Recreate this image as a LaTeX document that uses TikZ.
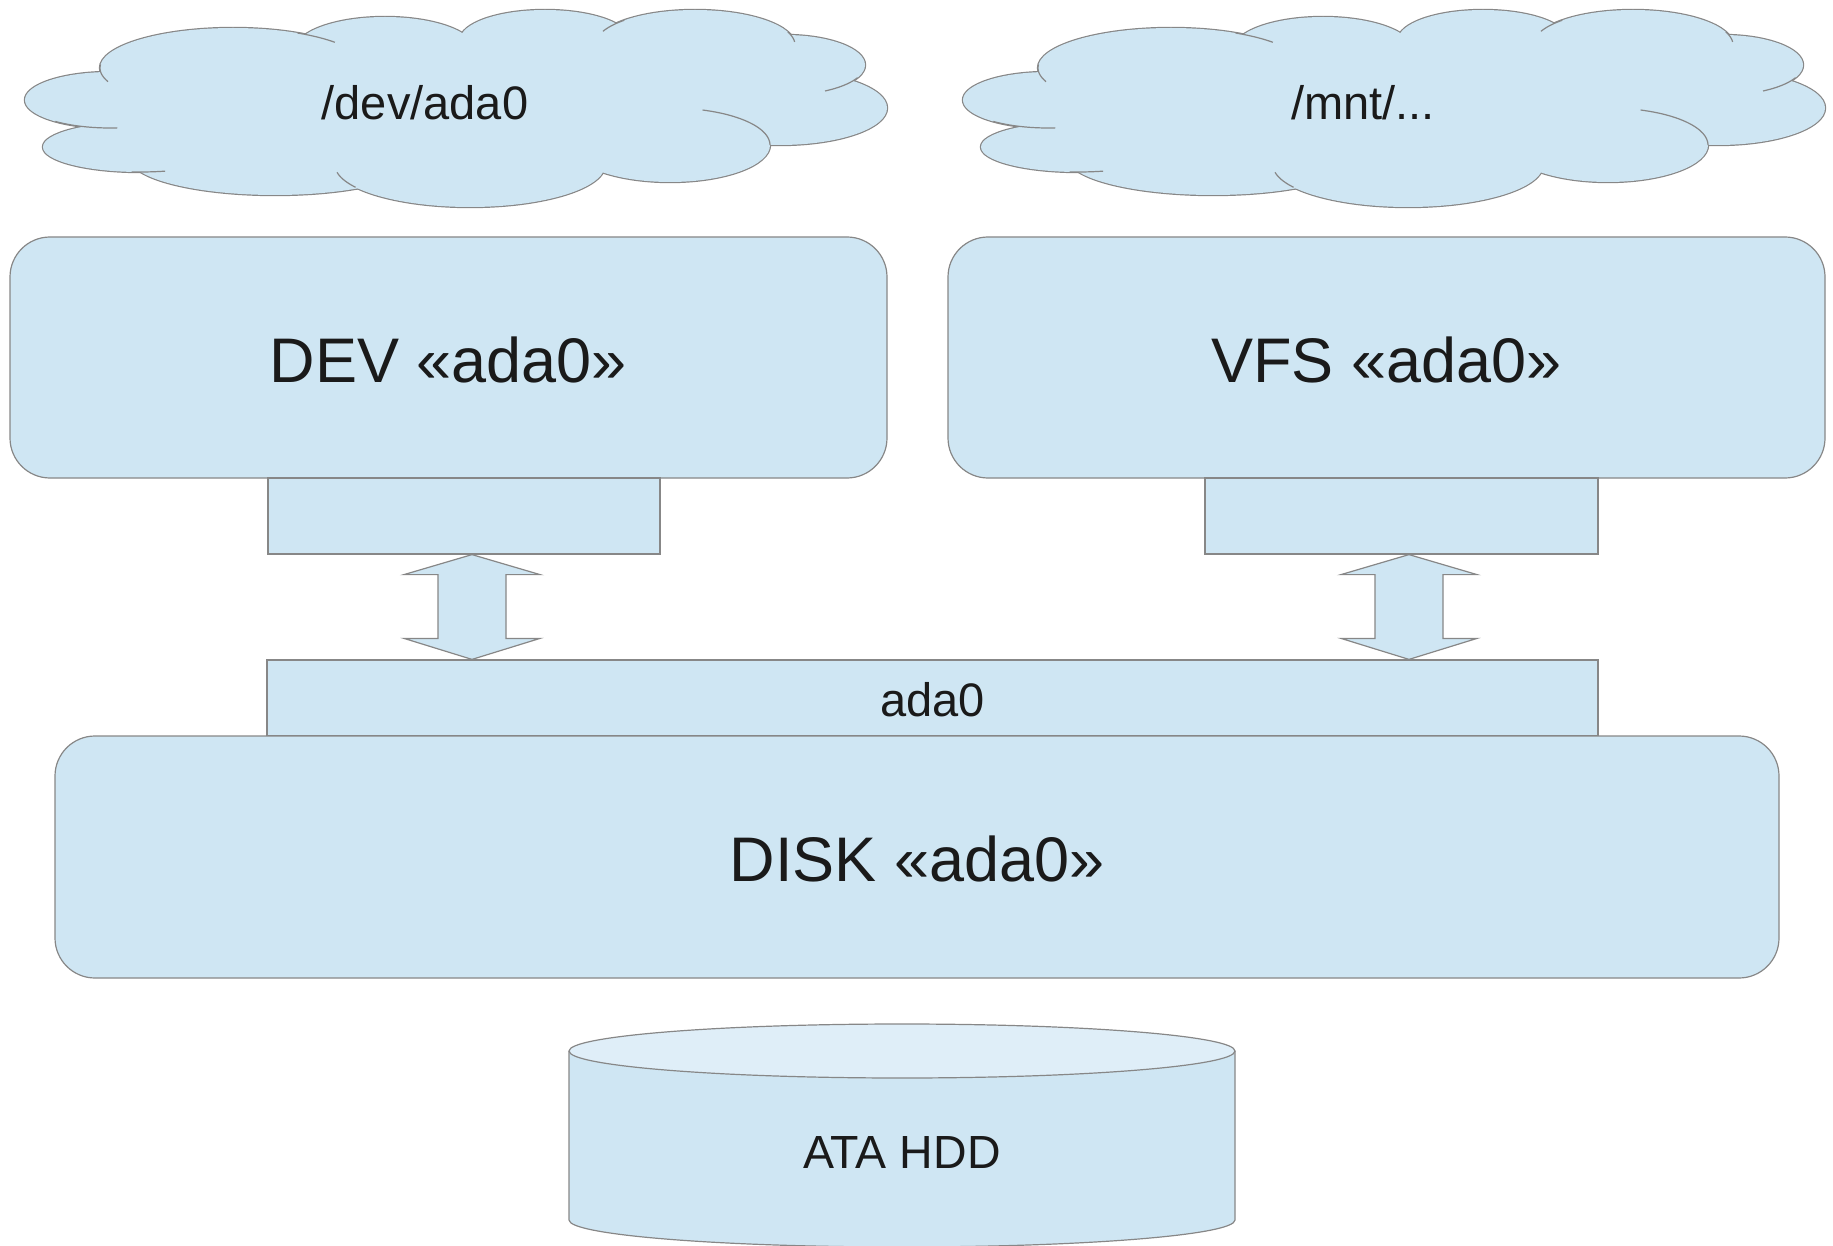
\documentclass[tikz,border=0pt]{standalone}
\usepackage{fontspec}
\setmainfont{Liberation Sans}
\usetikzlibrary{calc}

\definecolor{paleblue}{RGB}{207,230,243}
\definecolor{paletop}{RGB}{223,238,248}
\definecolor{edgegray}{RGB}{135,135,135}
\definecolor{inkblack}{RGB}{26,26,26}

\tikzset{
  edge/.style={draw=edgegray, line width=1.2pt},
  box/.style={edge, fill=paleblue, inner sep=0pt, text=inkblack},
  roundbox/.style={box, rounded corners=40pt},
  bigtext/.style={font=\fontsize{63}{70}\selectfont, text=inkblack},
  smalltext/.style={font=\fontsize{47}{54}\selectfont, text=inkblack},
  hddtext/.style={font=\fontsize{46.5}{52}\selectfont, text=inkblack},
  blockarrow/.style={box, line join=miter},
}

% cloud puffs: centre x / centre y / x radius / y radius
\def\pufflist{110/100/85/28, 140/147/97/25, 233/68/133/40, 385/50/90/33,
  545/40/85/30, 695/45/100/35, 785/65/80/30, 780/108/107/37,
  670/145/100/37, 470/165/135/42, 275/158/145/37}
% interior fill that closes the gaps between puffs
\def\cloudcore{470/105/280/55, 200/115/90/30, 650/75/90/30}
% short puff arcs that show inside the cloud: puff / start angle / end angle
\def\puffarcs{233/68/133/40/185/160, 233/68/133/40/-61/-40,
  695/45/100/35/203/225, 695/45/100/35/-22/-5, 785/65/80/30/25/60,
  670/145/100/37/-71/0, 470/165/135/42/170/148, 110/100/85/28/130/85,
  140/147/97/25/95/75}

\newcommand{\drawpuffcloud}{%
  \foreach \cx/\cy/\rx/\ry in \pufflist {
    \draw[draw=edgegray, line width=2.4pt] (\cx,\cy) ellipse [x radius=\rx, y radius=\ry];
  }
  \foreach \cx/\cy/\rx/\ry in \pufflist {
    \fill[paleblue] (\cx,\cy) ellipse [x radius=\rx, y radius=\ry];
  }
  \foreach \cx/\cy/\rx/\ry in \cloudcore {
    \fill[paleblue] (\cx,\cy) ellipse [x radius=\rx, y radius=\ry];
  }
  \foreach \cx/\cy/\rx/\ry/\ta/\tb in \puffarcs {
    \draw[edge] plot[domain=\ta:\tb, samples=16, smooth]
      ({\cx+\rx*cos(\x)},{\cy+\ry*sin(\x)});
  }
}

\begin{document}
\begin{tikzpicture}[x=1pt, y=-1pt]
\useasboundingbox (0,0) rectangle (1833,1246);

% clouds with the paths
\drawpuffcloud
\node[smalltext, anchor=base] (devpath) at (425,120) {/dev/ada0};
\begin{scope}[shift={(938,0)}]
  \drawpuffcloud
\end{scope}
\node[smalltext, anchor=base] (mntpath) at (1363,120) {/mnt/...};

% upper consumers
\node[roundbox, minimum width=877pt, minimum height=241pt] (dev) at (448.5,357.5) {};
\node[bigtext, anchor=base] (devlabel) at (448.5,382) {DEV «ada0»};
\node[roundbox, minimum width=877pt, minimum height=241pt] (vfs) at (1386.5,357.5) {};
\node[bigtext, anchor=base] (vfslabel) at (1386.5,382) {VFS «ada0»};

% their ports
\node[box, minimum width=392pt, minimum height=76pt] (devport) at (464,516) {};
\node[box, minimum width=393pt, minimum height=76pt] (vfsport) at (1401.5,516) {};

% disk with its provider
\node[box, minimum width=1331pt, minimum height=76pt] (bar) at (932.5,698) {};
\node[smalltext, anchor=base] (barlabel) at (932.5,716) {ada0};
\node[roundbox, minimum width=1724pt, minimum height=242pt] (disk) at (917,857) {};
\node[bigtext, anchor=base] (disklabel) at (917,881.5) {DISK «ada0»};

% double block arrows between ports and provider
\coordinate (a1t) at ($(devport.south)+(8,0)$);
\coordinate (a1b) at (a1t |- bar.north);
\coordinate (a2t) at ($(vfsport.south)+(7.5,0)$);
\coordinate (a2b) at (a2t |- bar.north);
\foreach \t/\b in {a1t/a1b, a2t/a2b} {
  \draw[blockarrow] (\t) -- ++(68,20) -- ++(-34,0) -- ($(\b)+(34,-21)$)
    -- ++(34,0) -- (\b) -- ++(-68,-21) -- ++(34,0)
    -- ($(\t)+(-34,20)$) -- ++(-34,0) -- cycle;
}

% hard disk drum
\fill[paleblue] (569,1051) -- (569,1220)
  arc[start angle=180, end angle=0, x radius=333, y radius=27] -- (1235,1051) -- cycle;
\draw[edge] (569,1051) -- (569,1220)
  arc[start angle=180, end angle=0, x radius=333, y radius=27] -- (1235,1051);
\draw[edge, fill=paletop] (902,1051) ellipse [x radius=333, y radius=27];
\node[hddtext, anchor=base] (hddlabel) at (902,1168) {ATA HDD};
\end{tikzpicture}
\end{document}
